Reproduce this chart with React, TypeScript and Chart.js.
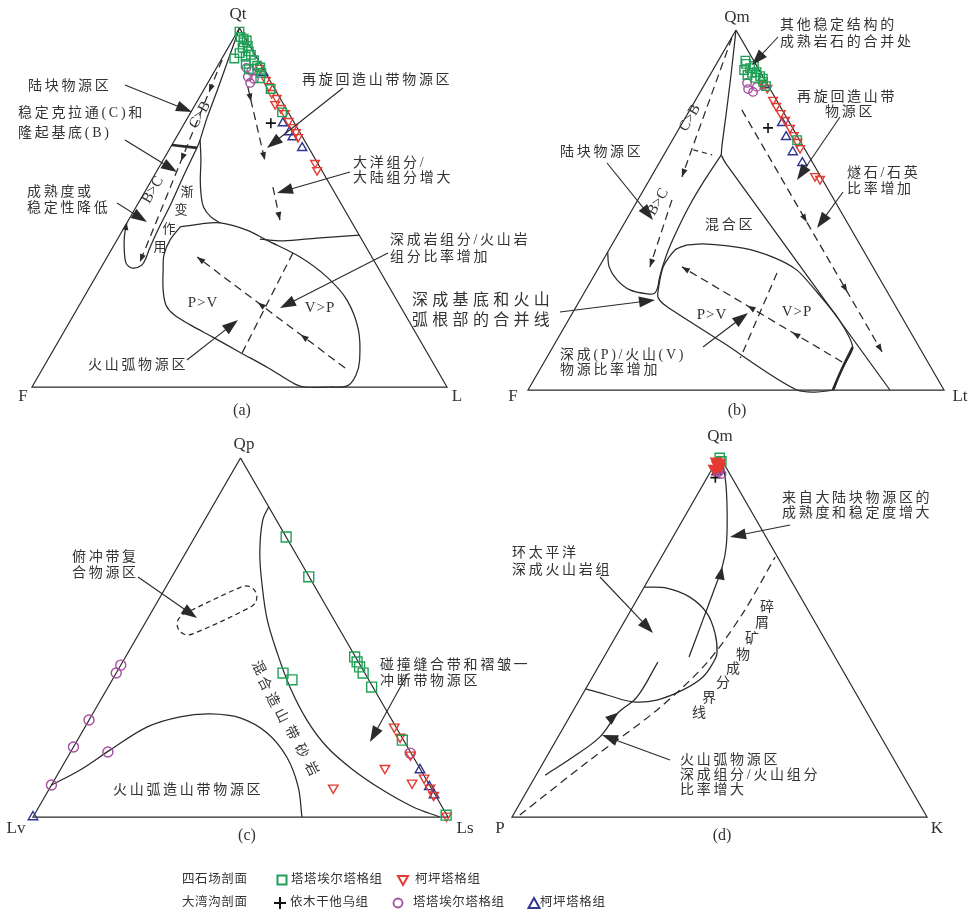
import React, { useEffect, useRef } from 'react';
import { Chart, registerables } from 'chart.js';

Chart.register(...registerables);

// Every composition is [top apex %, right vertex %]; the left vertex is the remainder.
type TR = [number, number];

// ---------- panel (a)  Qt – F – L ----------
const A_GREEN: TR[] = [[99, 0.5], [97.5, 1.5], [97, 2.5], [96, 3], [96.5, 3.5], [94.5, 3.5], [95, 4.5], [93.5, 5.5], [93, 3.5], [92.5, 6.5], [92, 5.5], [91.5, 3], [91, 8], [90, 6.5], [89.5, 9.5], [89, 10.5], [88.5, 8], [87.5, 11.5], [86, 12], [83, 16], [76.5, 22]];
const A_RED: TR[] = [[88.9, 10.5], [85.5, 13.6], [83.8, 15.2], [81.9, 16.8], [80.5, 18.7], [78.8, 19.2], [77.7, 21.1], [76.3, 22.8], [74.1, 24.8], [72.4, 26.7], [71, 28.1], [69.6, 29.3], [62.4, 37], [60.4, 38.5]];
const A_PURPLE: TR[] = [[88.9, 7.2], [88, 8.8], [86.4, 8.8], [85.8, 10.6], [84.7, 10.2]];
const A_BLUE: TR[] = [[87.5, 12], [73.5, 23.7], [71, 26.5], [69.6, 28], [66.6, 31.8]];
const A_PLUS: TR[] = [[73.5, 20.8]];

const A_SHARED: TR[] = [[100, 0], [83.3, 3.2], [74.9, 4.7], [68.8, 6.1]];
const A_STRIP: TR[] = [[68.8, 6.1], [66.9, 6.4], [59.1, 7.1], [50.7, 8.0], [43.2, 8.5], [38.2, 9.1], [35.9, 9.5], [34, 9.5], [33.1, 7.7], [34.5, 5.4], [39.6, 2.4], [43.2, 0.8], [45.7, 0]];
const A_RECYCLED: TR[] = [[68.8, 6.1], [63.2, 9.1], [57.7, 11.7], [53.5, 14], [50.1, 16.3], [47.4, 19.4], [45.7, 22.5]];
const A_ARC: TR[] = [[44.6, 13.4], [40.9, 12.8], [36.8, 13.4], [32.6, 15.3], [27, 18.1], [22.8, 20.9], [20.1, 24.2], [17.3, 29.5], [13.9, 36.6], [9.7, 45.2], [5.3, 54.3], [0.8, 63], [0, 65.8], [0, 71.8], [0.3, 75.8], [3.3, 76.4], [7.5, 75.2], [15.9, 70.7], [24.2, 63.8], [30.6, 55.8], [36.2, 46.5], [40.9, 36.1], [43.7, 29.9], [45.7, 22.5], [45.4, 17.8], [44.6, 13.4]];
const A_MIXLINE: TR[] = [[41.2, 34.3], [40.7, 40.2], [41.5, 47.9], [42.3, 57.7]];
const A_DIVIDER: TR[] = [[67.4, 0], [66.6, 6.5]];
const A_DASH_STRIP: TR[] = [[91.1, 0.25], [34.8, 8.6]];
const A_DASH_R1: TR[] = [[83.6, 10.2], [63.2, 24.5]];
const A_DASH_R2: TR[] = [[55.7, 30.2], [46.5, 36.5]];
const A_DASH_LOBE: TR[] = [[5.3, 72.8], [36.2, 21.7]];
const A_DASH_CROSS: TR[] = [[37.3, 44.2], [9.5, 45.9]];

// ---------- panel (b)  Qm – F – Lt ----------
const B_GREEN: TR[] = [[91.5, 6.5], [90.6, 7.1], [89.4, 8.7], [88.9, 7.5], [90, 9.3], [88.1, 9.8], [87.5, 9], [88.3, 10.8], [86.7, 11.3], [87.2, 12.2], [86.5, 13.2], [85.6, 13.7], [84.4, 15], [69.4, 30]];
const B_RED: TR[] = [[85, 14], [83.9, 15.6], [80.6, 18.6], [78.9, 20.2], [76.9, 22.3], [75, 24.3], [72.8, 26.6], [70.8, 28.5], [68.9, 30.3], [67.2, 31.8], [59.4, 39.3], [58.6, 40.9]];
const B_PURPLE: TR[] = [[85.3, 10], [83.6, 11.1], [82.8, 12.7], [84.2, 12.9]];
const B_BLUE: TR[] = [[84.7, 14.6], [74.2, 24], [70.3, 26.9], [66.1, 30.6], [63.1, 34.4]];
const B_PLUS: TR[] = [[72.8, 21.3]];

const B_SHARED: TR[] = [[100, 0], [87.5, 5.05], [76.4, 9.4], [68.1, 12.6], [65.3, 13.8]];
const B_RECYCLED: TR[] = [[65.3, 13.8], [63.1, 15.9], [0, 87]];
const B_STRIP: TR[] = [[65.3, 13.8], [58.3, 13.3], [51.4, 13.2], [45, 13.6], [38.9, 14.3], [33.9, 15.3], [30.6, 16.2], [28.6, 16.9], [26.9, 17], [26.7, 15.3], [27.8, 10.6], [30.6, 6.1], [34.2, 2.4], [38.3, 0]];
const B_ARC: TR[] = [[40.3, 18.1], [40.6, 21.8], [39.4, 32], [36.9, 40.4], [33.3, 48], [27.8, 55.1], [20, 64.5], [11.9, 72.1], [6.4, 72.5], [2.8, 72.9], [0, 73.3], [0, 64.7], [13.1, 40.4], [23.1, 21.9], [25.6, 18.5], [27.8, 17.4], [34.2, 15.4], [38.9, 15.9], [40.3, 18.1]];
const B_BOLD: TR[] = [[11.9, 72.1], [6.4, 72.5], [2.8, 72.9], [0, 73.3]];
const B_DIVIDER: TR[] = [[66.7, 6.4], [65.3, 11.6]];
const B_DASH_STRIP1: TR[] = [[97.8, 0.1], [59.2, 7.4]];
const B_DASH_STRIP2: TR[] = [[52.8, 8.2], [34.2, 12.2]];
const B_DASH_RECY: TR[] = [[77.8, 12.5], [10.6, 79.8]];
const B_DASH_LOBE: TR[] = [[7.8, 71.6], [34.2, 19.9]];
const B_DASH_CROSS: TR[] = [[32.5, 43.6], [8.9, 46.6]];

// ---------- panel (c)  Qp – Lv – Ls ----------
const C_GREEN: TR[] = [[78, 22], [66.9, 33], [44.6, 55.2], [43.2, 56.5], [41.8, 57.8], [40.1, 59.5], [36.2, 63.5], [40.1, 40.2], [38.2, 43.3], [21.4, 78.3], [0.5, 99.3]];
const C_RED: TR[] = [[25.1, 74.5], [22.3, 77.3], [17.3, 82.3], [13.6, 78], [9.5, 86.6], [10.9, 88.8], [8.1, 91.6], [6.1, 93.5], [0.3, 99.5], [8.1, 68.3]];
const C_PURPLE: TR[] = [[42.3, 0], [40.1, 0], [27, 0], [19.5, 0], [18.1, 9], [8.9, 0], [17.8, 82]];
const C_BLUE: TR[] = [[0, 0], [13.1, 86.7], [8.4, 91.3], [6.1, 93.6]];

const C_MIX: TR[] = [[86.4, 13.6], [82.7, 14], [73.5, 17.9], [64.1, 23.2], [54.9, 29], [45.7, 36], [36.2, 43.8], [27, 52.5], [19.5, 61.1], [13.1, 70.6], [7.5, 80.5], [2.8, 90.2], [0, 98]];
const C_ARC: TR[] = [[8.9, 0], [13.1, 4.8], [18.7, 9.3], [25.1, 15], [27.9, 21.5], [28.7, 28.4], [27.6, 36.1], [23.4, 44.7], [16.7, 52.8], [8.4, 59.7], [0, 64.8]];
const C_CAPSULE: TR[] = [[56.5, 7.9], [64.1, 18.2], [64.2, 20.1], [62.6, 22.4], [60.2, 23.7], [58.5, 23.2], [51, 13], [50.9, 11], [52.5, 8.7], [54.8, 7.5], [56.5, 7.9]];

// ---------- panel (d)  Qm – P – K ----------
const D_GREEN: TR[] = [[99.5, 0.3], [98.5, 1.2]];
const D_RED: TR[] = [[98.5, 0], [97.5, 0.8], [96.5, 0.5], [97, 1.5], [98, 1]];
const D_PURPLE: TR[] = [[95.5, 2], [95, 3], [96, 1.5]];
const D_BLUE: TR[] = [[95.5, 1.5], [96, 2.2]];
const D_PLUS: TR[] = [[94, 2]];

const D_ARC: TR[] = [[63.7, 0], [63.4, 5.6], [60.9, 12.4], [56.5, 18.7], [51, 23.4], [45.4, 26.7], [42.7, 27.1], [38.8, 26.6], [35.2, 23.6], [32.4, 18.7], [31.9, 13.2], [33.8, 6], [35.5, 0]];
const D_FLOW1: TR[] = [[11.6, 2.2], [16.6, 6.4], [22.2, 10.1], [28.8, 11.1], [33.2, 13.5], [42.9, 13.7]];
const D_FLOW2: TR[] = [[44.3, 20.5], [54.6, 18.7], [62, 17.4], [69.3, 16], [74.8, 14.2], [82.3, 10.7], [91.4, 5.9], [98.1, 1.8]];
const D_DASH: TR[] = [[0.55, 1.6], [15.8, 10.9], [29.6, 20.1], [42.7, 25.6], [56.5, 27.4], [72, 27.4]];

const OUTLINE: TR[] = [[100, 0], [0, 0], [0, 100], [100, 0]];

// ---------- layout ----------
const PANELS: Record<string, { x0: number; y0: number; w: number; h: number }> = {
  a: { x0: 32, y0: 387, w: 415, h: 359 },
  b: { x0: 528, y0: 390, w: 416, h: 360 },
  c: { x0: 33, y0: 817, w: 415, h: 359 },
  d: { x0: 512, y0: 817, w: 415, h: 361 },
};
const toXY = (p: string, v: TR) => {
  const g = PANELS[p];
  return { x: g.x0 + g.w * (v[1] / 100 + v[0] / 200), y: g.y0 - g.h * v[0] / 100 };
};

const GREEN = '#20a057';
const RED = '#e43a31';
const PURPLE = '#a64f9f';
const BLUE = '#2f3590';
const INK = '#2a2a2a';
const DASH = [8, 5];

type Txt = { s: string; x: number; y: number; size?: number; sp?: number; al?: CanvasTextAlign; rot?: number };
const TEXTS: Txt[] = [
  // (a)
  { s: 'Qt', x: 238, y: 15, size: 17, sp: 0, al: 'center' },
  { s: 'F', x: 23, y: 397, size: 17, sp: 0, al: 'center' },
  { s: 'L', x: 457, y: 397, size: 17, sp: 0, al: 'center' },
  { s: '(a)', x: 242, y: 411, size: 16, sp: 0, al: 'center' },
  { s: '陆块物源区', x: 28, y: 86 },
  { s: '稳定克拉通(C)和', x: 18, y: 113 },
  { s: '隆起基底(B)', x: 18, y: 133 },
  { s: '成熟度或', x: 27, y: 192 },
  { s: '稳定性降低', x: 27, y: 208 },
  { s: '再旋回造山带物源区', x: 302, y: 80 },
  { s: '大洋组分/', x: 353, y: 163 },
  { s: '大陆组分增大', x: 353, y: 178 },
  { s: '深成岩组分/火山岩', x: 390, y: 240 },
  { s: '组分比率增加', x: 390, y: 257 },
  { s: 'P>V', x: 203, y: 303, size: 15, sp: 1, al: 'center' },
  { s: 'V>P', x: 320, y: 308, size: 15, sp: 1, al: 'center' },
  { s: '火山弧物源区', x: 88, y: 365 },
  { s: '渐', x: 187, y: 193, size: 13, sp: 0, al: 'center' },
  { s: '变', x: 181, y: 211, size: 13, sp: 0, al: 'center' },
  { s: '作', x: 169, y: 230, size: 13, sp: 0, al: 'center' },
  { s: '用', x: 160, y: 248, size: 13, sp: 0, al: 'center' },
  { s: 'C>B', x: 200, y: 115, size: 15, sp: 0, al: 'center', rot: -60 },
  { s: 'B>C', x: 153, y: 190, size: 15, sp: 0, al: 'center', rot: -60 },
  { s: '深成基底和火山', x: 412, y: 301, size: 16, sp: 4.3 },
  { s: '弧根部的合并线', x: 412, y: 321, size: 16, sp: 4.3 },
  // (b)
  { s: 'Qm', x: 737, y: 18, size: 17, sp: 0, al: 'center' },
  { s: 'F', x: 513, y: 397, size: 17, sp: 0, al: 'center' },
  { s: 'Lt', x: 960, y: 397, size: 17, sp: 0, al: 'center' },
  { s: '(b)', x: 737, y: 411, size: 16, sp: 0, al: 'center' },
  { s: '其他稳定结构的', x: 780, y: 25 },
  { s: '成熟岩石的合并处', x: 780, y: 42 },
  { s: '再旋回造山带', x: 797, y: 97 },
  { s: '物源区', x: 825, y: 112 },
  { s: '燧石/石英', x: 847, y: 173 },
  { s: '比率增加', x: 847, y: 189 },
  { s: '陆块物源区', x: 560, y: 152 },
  { s: '混合区', x: 705, y: 225 },
  { s: 'C>B', x: 690, y: 118, size: 15, sp: 0, al: 'center', rot: -60 },
  { s: 'B>C', x: 658, y: 202, size: 15, sp: 0, al: 'center', rot: -60 },
  { s: 'P>V', x: 712, y: 315, size: 15, sp: 1, al: 'center' },
  { s: 'V>P', x: 797, y: 312, size: 15, sp: 1, al: 'center' },
  { s: '深成(P)/火山(V)', x: 560, y: 355 },
  { s: '物源比率增加', x: 560, y: 370 },
  // (c)
  { s: 'Qp', x: 244, y: 445, size: 17, sp: 0, al: 'center' },
  { s: 'Lv', x: 16, y: 829, size: 17, sp: 0, al: 'center' },
  { s: 'Ls', x: 465, y: 829, size: 17, sp: 0, al: 'center' },
  { s: '(c)', x: 247, y: 836, size: 16, sp: 0, al: 'center' },
  { s: '俯冲带复', x: 72, y: 557 },
  { s: '合物源区', x: 72, y: 573 },
  { s: '碰撞缝合带和褶皱一', x: 380, y: 665 },
  { s: '冲断带物源区', x: 380, y: 681 },
  { s: '火山弧造山带物源区', x: 113, y: 790 },
  { s: '混', x: 258, y: 668, sp: 0, al: 'center', rot: 63 },
  { s: '合', x: 264, y: 684, sp: 0, al: 'center', rot: 63 },
  { s: '造', x: 272, y: 700, sp: 0, al: 'center', rot: 63 },
  { s: '山', x: 281, y: 716, sp: 0, al: 'center', rot: 63 },
  { s: '带', x: 291, y: 733, sp: 0, al: 'center', rot: 63 },
  { s: '砂', x: 301, y: 751, sp: 0, al: 'center', rot: 63 },
  { s: '岩', x: 311, y: 769, sp: 0, al: 'center', rot: 63 },
  // (d)
  { s: 'Qm', x: 720, y: 437, size: 17, sp: 0, al: 'center' },
  { s: 'P', x: 500, y: 829, size: 17, sp: 0, al: 'center' },
  { s: 'K', x: 937, y: 829, size: 17, sp: 0, al: 'center' },
  { s: '(d)', x: 722, y: 836, size: 16, sp: 0, al: 'center' },
  { s: '来自大陆块物源区的', x: 782, y: 498 },
  { s: '成熟度和稳定度增大', x: 782, y: 513 },
  { s: '环太平洋', x: 512, y: 553 },
  { s: '深成火山岩组', x: 512, y: 570 },
  { s: '碎', x: 767, y: 607, sp: 0, al: 'center' },
  { s: '屑', x: 762, y: 623, sp: 0, al: 'center' },
  { s: '矿', x: 752, y: 639, sp: 0, al: 'center' },
  { s: '物', x: 743, y: 655, sp: 0, al: 'center' },
  { s: '成', x: 733, y: 669, sp: 0, al: 'center' },
  { s: '分', x: 723, y: 683, sp: 0, al: 'center' },
  { s: '界', x: 709, y: 698, sp: 0, al: 'center' },
  { s: '线', x: 699, y: 713, sp: 0, al: 'center' },
  { s: '火山弧物源区', x: 680, y: 760 },
  { s: '深成组分/火山组分', x: 680, y: 775 },
  { s: '比率增大', x: 680, y: 790 },
  // legend
  { s: '四石场剖面', x: 182, y: 880, size: 12.5, sp: 0.6 },
  { s: '塔塔埃尔塔格组', x: 291, y: 880, size: 12.5, sp: 0.6 },
  { s: '柯坪塔格组', x: 415, y: 880, size: 12.5, sp: 0.6 },
  { s: '大湾沟剖面', x: 182, y: 903, size: 12.5, sp: 0.6 },
  { s: '依木干他乌组', x: 290, y: 903, size: 12.5, sp: 0.6 },
  { s: '塔塔埃尔塔格组', x: 413, y: 903, size: 12.5, sp: 0.6 },
  { s: '柯坪塔格组', x: 540, y: 903, size: 12.5, sp: 0.6 },
];

// callout arrows [fromX, fromY, tipX, tipY]
const CALLOUTS: number[][] = [
  [125, 85, 192, 112], [125, 140, 177, 172], [117, 203, 147, 222], [343, 88, 267, 148], [350, 172, 277, 193],
  [388, 253, 280, 308], [187, 360, 238, 320], [560, 312, 655, 300],
  [778, 37, 752, 65], [840, 117, 797, 180], [843, 192, 817, 228], [607, 163, 653, 220], [703, 347, 748, 313],
  [138, 577, 197, 618], [407, 675, 370, 742],
  [790, 525, 730, 537], [600, 577, 653, 633], [670, 760, 602, 735],
];

const ARROWS = [
  { p: 'a', pts: A_DASH_STRIP, at: [0.16, 0.5, 1], len: 8, hw: 3 },
  { p: 'a', pts: A_DASH_R1, at: [0.2, 1], len: 8, hw: 3 },
  { p: 'a', pts: A_DASH_R2, at: [1], len: 8, hw: 3 },
  { p: 'a', pts: A_DASH_LOBE, at: [0.3, 0.59, 1], len: 8, hw: 3 },
  { p: 'a', pts: A_STRIP, at: [1], len: 7, hw: 3 },
  { p: 'b', pts: B_DASH_STRIP1, at: [1], len: 8, hw: 3 },
  { p: 'b', pts: B_DASH_STRIP2, at: [1], len: 8, hw: 3 },
  { p: 'b', pts: B_DASH_RECY, at: [0.463, 0.752, 1], len: 8, hw: 3 },
  { p: 'b', pts: B_DASH_LOBE, at: [0.31, 0.59, 1], len: 8, hw: 3 },
  { p: 'd', pts: D_FLOW1, at: [0.6], len: 13, hw: 5 },
  { p: 'd', pts: D_FLOW2, at: [0.48], len: 13, hw: 5 },
];

type St = { shape: string; color: string; r: number; rot?: number; fill?: string; bw?: number };
const lineDs = (p: string, pts: TR[], o: { w?: number; dash?: number[]; t?: number } = {}) => ({
  data: pts.map((v) => toXY(p, v)),
  showLine: true,
  pointRadius: 0,
  pointHoverRadius: 0,
  borderColor: INK,
  borderWidth: o.w ?? 1.25,
  borderDash: o.dash ?? [],
  tension: o.t ?? 0,
  fill: false,
  clip: false,
  order: 10,
});
const ptDs = (p: string, pts: TR[], st: St) => ({
  data: pts.map((v) => toXY(p, v)),
  showLine: false,
  pointStyle: st.shape,
  pointRadius: st.r,
  pointHoverRadius: st.r,
  pointRotation: st.rot ?? 0,
  pointBorderColor: st.color,
  pointBackgroundColor: st.fill ?? 'rgba(0,0,0,0)',
  pointBorderWidth: st.bw ?? 1.4,
  borderColor: st.color,
  backgroundColor: st.fill ?? 'rgba(0,0,0,0)',
  clip: false,
  order: 0,
});

const SQ: St = { shape: 'rect', color: GREEN, r: 6 };
const DN: St = { shape: 'triangle', color: RED, r: 5, rot: 180 };
const CI: St = { shape: 'circle', color: PURPLE, r: 4.2 };
const UP: St = { shape: 'triangle', color: BLUE, r: 5.3 };
const PL: St = { shape: 'cross', color: '#111', r: 5, bw: 1.6 };

const fontOf = (size: number) => `${size}px "Liberation Serif", "Noto Sans CJK SC", serif`;

const headAt = (ctx: CanvasRenderingContext2D, x: number, y: number, ang: number, len: number, hw: number) => {
  const c = Math.cos(ang), s = Math.sin(ang);
  ctx.beginPath();
  ctx.moveTo(x, y);
  ctx.lineTo(x - len * c + hw * s, y - len * s - hw * c);
  ctx.lineTo(x - len * c - hw * s, y - len * s + hw * c);
  ctx.closePath();
  ctx.fill();
};

const overlay = {
  id: 'overlay',
  beforeDraw(chart: any) {
    const { ctx, width, height } = chart;
    ctx.save();
    ctx.fillStyle = '#fff';
    ctx.fillRect(0, 0, width, height);
    ctx.restore();
  },
  afterDatasetsDraw(chart: any) {
    const ctx: CanvasRenderingContext2D = chart.ctx;
    const sx = chart.scales.x, sy = chart.scales.y;
    const px = (x: number, y: number) => [sx.getPixelForValue(x), sy.getPixelForValue(y)];
    ctx.save();
    ctx.fillStyle = INK;
    ctx.strokeStyle = INK;
    // arrowheads on flow / dashed lines
    ARROWS.forEach((a) => {
      const pts = a.pts.map((v) => { const q = toXY(a.p, v); return px(q.x, q.y); });
      const seg: number[] = [];
      let tot = 0;
      for (let i = 1; i < pts.length; i++) { const d = Math.hypot(pts[i][0] - pts[i - 1][0], pts[i][1] - pts[i - 1][1]); seg.push(d); tot += d; }
      a.at.forEach((f) => {
        let target = f * tot, i = 0;
        while (i < seg.length - 1 && target > seg[i]) { target -= seg[i]; i++; }
        const k = seg[i] ? Math.min(1, target / seg[i]) : 0;
        const p0 = pts[i], p1 = pts[i + 1];
        const x = p0[0] + (p1[0] - p0[0]) * k, y = p0[1] + (p1[1] - p0[1]) * k;
        headAt(ctx, x, y, Math.atan2(p1[1] - p0[1], p1[0] - p0[0]), a.len, a.hw);
      });
    });
    // callouts
    ctx.lineWidth = 1.1;
    CALLOUTS.forEach(([x1, y1, x2, y2]) => {
      const [a1, b1] = px(x1, y1), [a2, b2] = px(x2, y2);
      const ang = Math.atan2(b2 - b1, a2 - a1);
      ctx.beginPath();
      ctx.moveTo(a1, b1);
      ctx.lineTo(a2 - 10 * Math.cos(ang), b2 - 10 * Math.sin(ang));
      ctx.stroke();
      headAt(ctx, a2, b2, ang, 16, 5.5);
    });
    // texts
    ctx.fillStyle = '#333';
    ctx.textBaseline = 'middle';
    TEXTS.forEach((t) => {
      const [x, y] = px(t.x, t.y);
      ctx.font = fontOf(t.size ?? 14);
      (ctx as any).letterSpacing = `${t.sp ?? 2.7}px`;
      ctx.textAlign = t.al ?? 'left';
      if (t.rot) {
        ctx.save();
        ctx.translate(x, y);
        ctx.rotate((t.rot * Math.PI) / 180);
        ctx.fillText(t.s, 0, 0);
        ctx.restore();
      } else ctx.fillText(t.s, x, y);
    });
    (ctx as any).letterSpacing = '0px';
    // legend symbols
    const [gx, gy] = px(282, 880);
    ctx.lineWidth = 2; ctx.strokeStyle = GREEN; ctx.strokeRect(gx - 4.5, gy - 4.5, 9, 9);
    const [rx, ry] = px(403, 880);
    ctx.strokeStyle = RED; ctx.beginPath(); ctx.moveTo(rx - 5, ry - 4); ctx.lineTo(rx + 5, ry - 4); ctx.lineTo(rx, ry + 5); ctx.closePath(); ctx.stroke();
    const [cx, cy] = px(280, 903);
    ctx.strokeStyle = '#111'; ctx.beginPath(); ctx.moveTo(cx - 6, cy); ctx.lineTo(cx + 6, cy); ctx.moveTo(cx, cy - 6); ctx.lineTo(cx, cy + 6); ctx.stroke();
    const [ox, oy] = px(398, 903);
    ctx.strokeStyle = PURPLE; ctx.lineWidth = 1.8; ctx.beginPath(); ctx.arc(ox, oy, 4.5, 0, Math.PI * 2); ctx.stroke();
    const [bx, by] = px(534, 903);
    ctx.strokeStyle = BLUE; ctx.lineWidth = 2; ctx.beginPath(); ctx.moveTo(bx - 5.5, by + 5); ctx.lineTo(bx + 5.5, by + 5); ctx.lineTo(bx, by - 5); ctx.closePath(); ctx.stroke();
    ctx.restore();
  },
};

export default function App() {
  const ref = useRef<HTMLCanvasElement | null>(null);
  useEffect(() => {
    if (!ref.current) return;
    const big = (s: St, r: number): St => ({ ...s, r });
    const datasets: any[] = [
      // points
      ptDs('a', A_GREEN, SQ), ptDs('a', A_RED, DN), ptDs('a', A_PURPLE, CI), ptDs('a', A_BLUE, UP), ptDs('a', A_PLUS, PL),
      ptDs('b', B_GREEN, SQ), ptDs('b', B_RED, DN), ptDs('b', B_PURPLE, CI), ptDs('b', B_BLUE, UP), ptDs('b', B_PLUS, PL),
      ptDs('c', C_GREEN, big(SQ, 7)), ptDs('c', C_RED, big(DN, 5.5)), ptDs('c', C_PURPLE, big(CI, 5)), ptDs('c', C_BLUE, big(UP, 5.5)),
      ptDs('d', D_RED, { ...DN, r: 6.5, fill: RED }), ptDs('d', D_GREEN, big(SQ, 6.5)), ptDs('d', D_PURPLE, CI), ptDs('d', D_BLUE, UP), ptDs('d', D_PLUS, PL),
      // panel (a) lines
      lineDs('a', OUTLINE), lineDs('a', A_SHARED, { t: 0.2 }), lineDs('a', A_STRIP, { t: 0.3 }), lineDs('a', A_RECYCLED, { t: 0.35 }),
      lineDs('a', A_ARC, { t: 0.35 }), lineDs('a', A_MIXLINE, { t: 0.3 }), lineDs('a', A_DIVIDER, { w: 2.6 }),
      lineDs('a', A_DASH_STRIP, { dash: DASH }), lineDs('a', A_DASH_R1, { dash: DASH }), lineDs('a', A_DASH_R2, { dash: DASH }),
      lineDs('a', A_DASH_LOBE, { dash: DASH }), lineDs('a', A_DASH_CROSS, { dash: DASH }),
      // panel (b)
      lineDs('b', OUTLINE), lineDs('b', B_SHARED, { t: 0.2 }), lineDs('b', B_RECYCLED, { t: 0.2 }), lineDs('b', B_STRIP, { t: 0.3 }),
      lineDs('b', B_ARC, { t: 0.25 }), lineDs('b', B_BOLD, { w: 2.6, t: 0.3 }), lineDs('b', B_DIVIDER, { dash: [5, 4] }),
      lineDs('b', B_DASH_STRIP1, { dash: DASH }), lineDs('b', B_DASH_STRIP2, { dash: DASH }), lineDs('b', B_DASH_RECY, { dash: DASH }),
      lineDs('b', B_DASH_LOBE, { dash: DASH }), lineDs('b', B_DASH_CROSS, { dash: DASH }),
      // panel (c)
      lineDs('c', OUTLINE), lineDs('c', C_MIX, { t: 0.35 }), lineDs('c', C_ARC, { t: 0.35 }), lineDs('c', C_CAPSULE, { dash: [5, 3.5], t: 0.35 }),
      // panel (d)
      lineDs('d', OUTLINE), lineDs('d', D_ARC, { t: 0.35 }), lineDs('d', D_FLOW1, { t: 0.35 }), lineDs('d', D_FLOW2, { t: 0.35 }),
      lineDs('d', D_DASH, { dash: DASH, t: 0.3 }),
    ];
    const chart = new Chart(ref.current, {
      type: 'scatter',
      data: { datasets },
      options: {
        responsive: false,
        maintainAspectRatio: false,
        animation: false,
        devicePixelRatio: 1,
        events: [],
        layout: { padding: 0, autoPadding: false },
        plugins: { legend: { display: false }, tooltip: { enabled: false } },
        scales: {
          x: { type: 'linear', min: 0, max: 976, display: false },
          y: { type: 'linear', min: 0, max: 918, reverse: true, display: false },
        },
      },
      plugins: [overlay],
    } as any);
    return () => chart.destroy();
  }, []);
  return (
    <div style={{ position: 'fixed', left: 0, top: 0, width: 976, height: 918, background: '#fff' }}>
      <canvas ref={ref} width={976} height={918} style={{ display: 'block' }} />
    </div>
  );
}
